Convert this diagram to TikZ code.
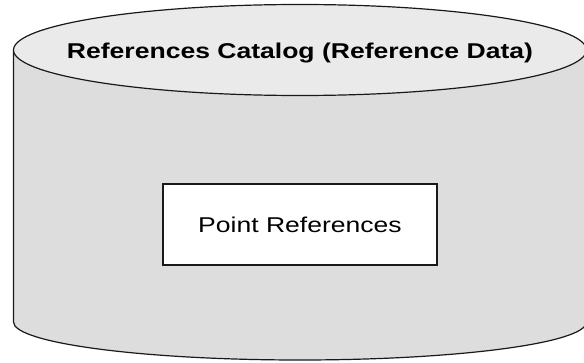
\documentclass[tikz,border=0pt]{standalone}
\usepackage{fontspec}
\setmainfont{Liberation Sans}
\newfontfamily\widefont[FakeStretch=1.24]{Liberation Sans}
\definecolor{bodygray}{RGB}{221,221,221}
\definecolor{topgray}{RGB}{234,234,234}
\begin{document}
\begin{tikzpicture}[x=1pt, y=1pt,
  cylline/.style={draw=black!90, line width=1.2pt},
  txt/.style={font=\widefont\fontsize{21.4}{24}\selectfont, text=black}]
\useasboundingbox (0,0) rectangle (584,362);
\clip (0,0) rectangle (584,362);

% Cylinder body
\filldraw[fill=bodygray, cylline] (13.5,312) -- (13.5,40)
  arc[start angle=180, end angle=360, x radius=286.5, y radius=38] -- (586.5,312);

% Top
\filldraw[fill=topgray, cylline] (300,312) ellipse [x radius=286.5, y radius=45.5];

% Labels
\node[txt, font=\widefont\bfseries\fontsize{21.4}{24}\selectfont, anchor=base] (catalog) at (300,303) {References Catalog (Reference Data)};
\node[txt, draw=black!90, line width=1.2pt, fill=white, minimum width=274pt, minimum height=81pt] (points) at (300,137.5) {Point References};
\end{tikzpicture}
\end{document}
